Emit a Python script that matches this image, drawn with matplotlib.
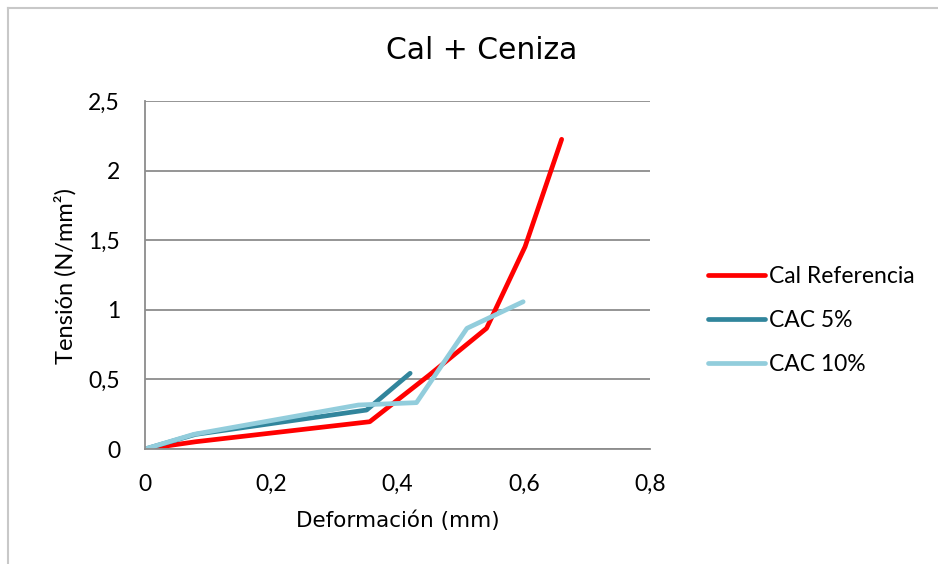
import matplotlib.pyplot as plt
from matplotlib.lines import Line2D

# datos
def_ref = [0, 0.08, 0.356, 0.45, 0.541, 0.602, 0.660]
ten_ref = [0, 0.052, 0.196, 0.53, 0.867, 1.453, 2.225]

def_cac5 = [0, 0.08, 0.351, 0.420]
ten_cac5 = [0, 0.105, 0.28, 0.544]

def_cac10 = [0, 0.077, 0.338, 0.430, 0.51, 0.599]
ten_cac10 = [0, 0.105, 0.316, 0.333, 0.867, 1.058]

x_ticks = [0, 0.2, 0.4, 0.6, 0.8]
x_labels = ['0', '0,2', '0,4', '0,6', '0,8']
y_ticks = [0, 0.5, 1, 1.5, 2, 2.5]
y_labels = ['0', '0,5', '1', '1,5', '2', '2,5']

fig = plt.figure(figsize=(9.38, 5.64), dpi=100)
ax = fig.add_axes([0.1546, 0.2039, 0.5384, 0.617])

ax.plot(def_ref, ten_ref, color='#FF0000', lw=3.4, label='Cal Referencia', solid_capstyle='round')
ax.plot(def_cac5, ten_cac5, color='#31859C', lw=3.4, label='CAC 5%', solid_capstyle='round')
ax.plot(def_cac10, ten_cac10, color='#92CDDC', lw=3.4, label='CAC 10%', solid_capstyle='round')

ax.set_xlim(0, 0.8)
ax.set_ylim(0, 2.5)
ax.set_xticks(x_ticks)
ax.set_xticklabels(x_labels, family='Lato', fontsize=16.5)
ax.set_yticks(y_ticks)
ax.set_yticklabels(y_labels, family='Lato', fontsize=16.5)
ax.tick_params(axis='x', length=0, pad=18)
ax.tick_params(axis='y', length=0, pad=18)
ax.grid(axis='y', color='#8c8c8c', lw=1.3)
ax.set_axisbelow(True)
for s in ['top', 'right']:
    ax.spines[s].set_visible(False)
for s in ['left', 'bottom']:
    ax.spines[s].set_color('#8c8c8c')
    ax.spines[s].set_linewidth(1.3)

fig.text(0.513, 0.911, 'Cal + Ceniza', fontsize=21.5, ha='center', va='center')
ax.set_xlabel('Deformación (mm)', fontsize=15.5, va='center')
ax.xaxis.set_label_coords(0.5, -0.207)
ax.set_ylabel('Tensión (N/mm²)', family='Lato', fontsize=17, va='center')
ax.yaxis.set_label_coords(-0.158, 0.496)

leg = ax.legend(loc='center left', bbox_to_anchor=(0.7548, 0.431),
                bbox_transform=fig.transFigure, frameon=False,
                prop={'family': 'Lato', 'size': 16.5}, handlelength=2.5,
                handletextpad=0.15, labelspacing=1.0, borderpad=0, borderaxespad=0)

# marco gris
fig.add_artist(Line2D([0.0085, 0.0085], [0, 0.986], color='#c8c8c8', lw=1.5))
fig.add_artist(Line2D([0.0085, 1], [0.986, 0.986], color='#c8c8c8', lw=1.5))

fig.savefig('out.png', dpi=100)
